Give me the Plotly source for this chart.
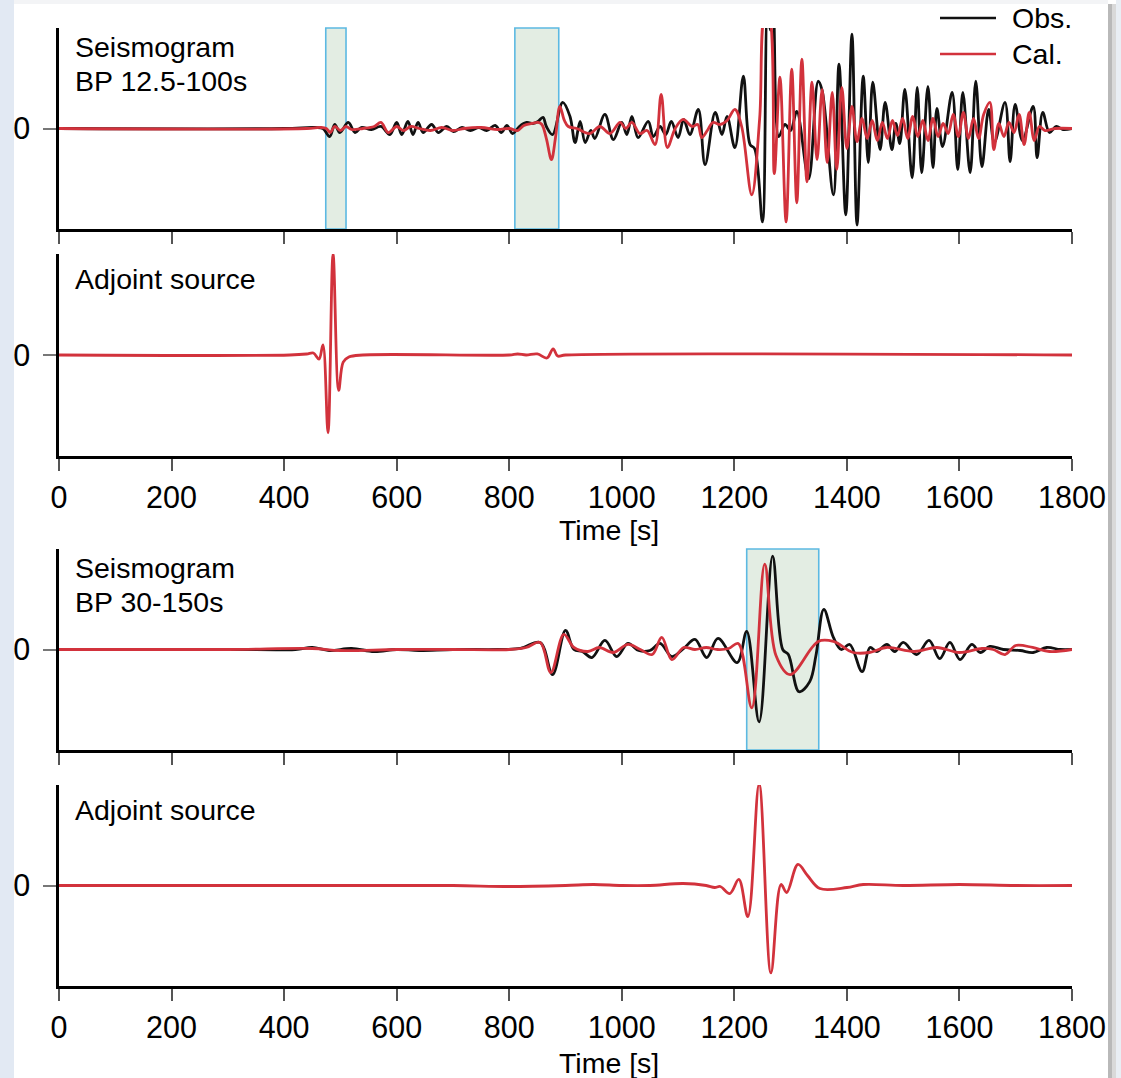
import plotly.graph_objects as go

W, H = 1121, 1078
FONT = "Liberation Sans, Arial, Helvetica, sans-serif"

# ---------------- data ----------------
tick_vals = [0, 200, 400, 600, 800, 1000, 1200, 1400, 1600, 1800]

# Panel 1: Seismogram BP 12.5-100s
p1_obs_t = [0, 400, 455, 469, 481, 490, 499, 514, 526, 537, 555, 572, 588, 600, 609, 620, 629, 638, 647,
            662, 674, 689, 701, 716, 731, 746, 760, 775, 786, 796, 806, 818, 831, 843, 851, 860, 866, 877,
            895, 908, 917, 926, 935, 945, 952, 970, 985, 1000, 1009, 1018, 1029, 1047, 1056, 1068, 1078,
            1088, 1100, 1110, 1121, 1136, 1148, 1166, 1178, 1187, 1201, 1216, 1228, 1236, 1250, 1259, 1264,
            1269, 1279, 1290, 1300, 1311, 1332, 1349, 1356, 1376, 1386, 1398, 1409, 1418, 1429, 1438, 1446,
            1459, 1468, 1480, 1487, 1494, 1503, 1516, 1525, 1533, 1544, 1553, 1560, 1570, 1587, 1597, 1606,
            1619, 1629, 1640, 1652, 1662, 1681, 1690, 1699, 1712, 1731, 1738, 1748, 1760, 1772, 1784, 1800]
p1_obs_v = [0, 0, 0.01, 0.0, -0.08, 0.04, -0.04, 0.06, -0.04, 0.01, -0.01, 0.02, -0.06, 0.06, -0.06, 0.07, -0.06, 0.06, -0.04,
            0.04, -0.04, 0.02, -0.03, 0.01, -0.02, 0.01, -0.02, 0.03, -0.04, 0.03, -0.05, 0.02, 0.06, 0.05, 0.07, 0.11, 0.02, -0.06,
            0.26, 0.12, -0.14, 0.07, -0.14, -0.02, -0.10, 0.14, -0.11, 0.06, -0.06, 0.12, -0.09, 0.07, -0.08, 0.02, -0.06,
            0.07, -0.09, 0.09, -0.06, 0.19, -0.36, 0.16, -0.06, 0.12, -0.19, 0.52, -0.16, -0.20, -0.93, 1.15, 0.98,
            1.15, -0.08, 0.04, -0.02, 0.17, -0.50, 0.47, 0.38, -0.66, 0.64, -0.86, 0.94, -0.96, 0.52, -0.34, 0.46,
            -0.21, 0.26, -0.21, 0.05, -0.15, 0.39, -0.49, 0.41, -0.44, 0.42, -0.39, 0.20, -0.18, 0.36, -0.41, 0.36,
            -0.44, 0.47, -0.38, 0.19, -0.14, 0.26, -0.33, 0.24, -0.12, 0.22, -0.29, 0.16, -0.04, 0.02, -0.01, 0]

p1_cal_t = [0, 440, 465, 475, 482, 490, 500, 510, 520, 540, 560, 572, 585, 600, 612, 625, 640, 660, 680, 700,
            720, 750, 780, 800, 815, 826, 840, 851, 858, 866, 875, 882, 890, 898, 905, 920, 943, 961, 979, 997,
            1007, 1018, 1032, 1045, 1059, 1070, 1081, 1095, 1109, 1125, 1135, 1142, 1152, 1162, 1175, 1187,
            1201, 1213, 1231, 1245, 1255, 1261, 1271, 1281, 1292, 1302, 1311, 1320, 1329, 1338, 1347, 1356,
            1365, 1374, 1382, 1391, 1400, 1409, 1418, 1427, 1436, 1445, 1454, 1463, 1472, 1481, 1490, 1499,
            1508, 1517, 1526, 1535, 1544, 1553, 1562, 1571, 1580, 1589, 1598, 1607, 1616, 1625, 1634, 1643,
            1654, 1661, 1670, 1679, 1688, 1697, 1706, 1715, 1724, 1733, 1742, 1752, 1770, 1800]
p1_cal_v = [0, 0, 0.01, 0.0, -0.04, 0.02, -0.02, 0.02, -0.01, 0.0, 0.02, 0.06, -0.04, 0.02, -0.02, 0.02, 0.0, -0.02, 0.01, -0.02,
            0.0, 0.01, -0.01, 0.0, -0.02, 0.03, 0.05, 0.06, 0.04, -0.10, -0.31, -0.10, 0.22, 0.08, 0.02, 0.0, -0.05, 0.02, -0.05, 0.06,
            0.0, 0.06, -0.05, -0.02, -0.16, 0.34, -0.19, 0.0, 0.09, 0.02, 0.04, -0.09, -0.02, 0.06, 0.04, 0.08,
            0.19, 0.02, -0.66, 0.10, 1.15, 1.15, -0.45, 0.51, -0.93, 0.59, -0.74, 0.69, -0.53, 0.46, -0.31, 0.39,
            -0.34, 0.36, -0.41, 0.41, -0.20, 0.22, -0.13, 0.10, -0.10, 0.08, -0.12, 0.06, -0.10, 0.08, -0.07, 0.10,
            -0.10, 0.12, -0.08, 0.08, -0.12, 0.10, -0.08, 0.05, -0.05, 0.14, -0.08, 0.16, -0.10, 0.10, -0.10, 0.14,
            0.26, -0.21, 0.05, -0.08, 0.06, -0.04, 0.14, -0.16, 0.16, -0.12, 0.02, -0.02, 0.0, 0]

# Panel 2: adjoint source (BP 12.5-100s)
p2_adj_t = [0, 410, 440, 452, 462, 469, 478, 487, 497, 505, 515, 540, 800, 815, 830, 850, 867, 878, 886, 900, 1800]
p2_adj_v = [0, 0, 0.01, 0.02, -0.04, 0.10, -0.77, 1.00, -0.35, -0.07, -0.02, 0.0, 0.0, 0.01, 0.0, 0.01, -0.03, 0.06, -0.01, 0, 0]

# Panel 3: Seismogram BP 30-150s
p3_obs_t = [0, 300, 420, 450, 480, 520, 560, 600, 640, 700, 780, 820, 855, 877, 900, 915, 930, 947, 970, 991,
            1011, 1030, 1050, 1068, 1089, 1110, 1130, 1151, 1171, 1205, 1222, 1244, 1268, 1286, 1296, 1315,
            1334, 1345, 1359, 1376, 1390, 1405, 1427, 1441, 1453, 1471, 1485, 1500, 1524, 1546, 1565, 1583,
            1601, 1622, 1637, 1654, 1678, 1708, 1731, 1755, 1779, 1800]
p3_obs_v = [0, 0, 0.0, 0.02, -0.01, 0.01, -0.02, 0.0, -0.01, 0.0, 0.0, 0.01, 0.07, -0.25, 0.19, 0.0, -0.02, -0.08, 0.09, -0.07,
            0.06, -0.01, -0.01, 0.06, -0.07, 0.01, 0.10, -0.08, 0.11, -0.13, 0.18, -0.72, 0.93, 0.0, -0.05, -0.42,
            -0.32, -0.06, 0.40, 0.12, 0.0, 0.05, -0.22, 0.02, -0.02, 0.05, -0.02, 0.07, -0.05, 0.09, -0.09, 0.07,
            -0.10, 0.05, -0.03, 0.03, 0.0, -0.01, -0.03, 0.02, 0.0, 0]

p3_cal_t = [0, 300, 450, 500, 600, 700, 800, 830, 855, 874, 897, 915, 940, 960, 985, 1011, 1033, 1054, 1071, 1089,
            1110, 1130, 1150, 1170, 1190, 1207, 1231, 1254, 1274, 1299, 1349, 1376, 1411, 1440, 1470, 1520,
            1560, 1600, 1640, 1660, 1681, 1700, 1730, 1760, 1800]
p3_cal_v = [0, 0, 0.01, -0.01, 0.0, 0.0, 0.0, 0.02, 0.07, -0.23, 0.15, 0.02, -0.02, 0.02, -0.03, 0.05, 0.0, -0.05, 0.12, -0.10,
            0.02, 0.0, 0.02, 0.0, 0.01, 0.06, -0.58, 0.85, -0.06, -0.25, 0.08, 0.08, -0.03, -0.03, 0.02, -0.02,
            0.02, -0.03, 0.01, 0.0, -0.05, 0.04, 0.02, -0.02, 0]

# Panel 4: adjoint source (BP 30-150s)
p4_adj_t = [0, 500, 700, 800, 900, 950, 1000, 1050, 1109, 1150, 1165, 1175, 1192, 1208, 1224, 1244, 1265, 1283,
            1293, 1313, 1330, 1352, 1400, 1429, 1500, 1600, 1700, 1800]
p4_adj_v = [0, 0, 0.0, -0.01, 0.0, 0.01, 0.0, 0.0, 0.02, 0.0, -0.02, -0.01, -0.08, 0.06, -0.31, 1.01, -0.87, 0.01,
            -0.07, 0.21, 0.10, -0.03, -0.02, 0.01, 0.0, 0.01, 0.0, 0]

# measurement windows (s)
windows_p1 = [(474, 510), (810, 888)]
windows_p3 = [(1222, 1350)]

OBS_COLOR = "#111111"
CAL_COLOR = "#d2323c"

# ---------------- layout helpers ----------------
def px(x):
    return x / W

def py(y):
    return 1 - y / H

x_dom = [px(59), px(1072)]
panels = [(28, 229), (254, 456), (549, 750), (785, 986)]  # pixel top, bottom

fig = go.Figure()

def add(t, v, color, idx, name):
    fig.add_trace(go.Scatter(
        x=t, y=v, mode="lines", name=name, showlegend=False,
        line=dict(color=color, width=2.8, shape="spline", smoothing=1.0),
        xaxis="x" if idx == 1 else f"x{idx}", yaxis="y" if idx == 1 else f"y{idx}",
    ))

add(p1_obs_t, p1_obs_v, OBS_COLOR, 1, "Obs.")
add(p1_cal_t, p1_cal_v, CAL_COLOR, 1, "Cal.")
add(p2_adj_t, p2_adj_v, CAL_COLOR, 2, "Adjoint")
add(p3_obs_t, p3_obs_v, OBS_COLOR, 3, "Obs.")
add(p3_cal_t, p3_cal_v, CAL_COLOR, 3, "Cal.")
add(p4_adj_t, p4_adj_v, CAL_COLOR, 4, "Adjoint")

layout = dict(
    width=W, height=H, autosize=False,
    margin=dict(l=0, r=0, t=0, b=0, pad=0, autoexpand=False),
    paper_bgcolor="white", plot_bgcolor="rgba(0,0,0,0)",
    font=dict(family=FONT, size=28, color="black"),
    showlegend=False,
)

TICK_SIZE = 30.5
TEXT_SIZE = 28.5

for i, (top, bot) in enumerate(panels, start=1):
    labels = i in (2, 4)
    xa = dict(domain=x_dom, range=[0, 1800], tickvals=tick_vals, automargin=False,
              showticklabels=labels, ticks="outside", ticklen=12, tickwidth=1.5, tickcolor="#555",
              showline=True, linecolor="black", linewidth=2.6, showgrid=False, zeroline=False,
              anchor="y" if i == 1 else f"y{i}", tickfont=dict(size=TICK_SIZE, family=FONT, color="black"),
              ticklabelstandoff=1)
    ya = dict(domain=[py(bot), py(top)], range=[-1, 1], tickvals=[0], ticktext=["0"], automargin=False,
              ticks="outside", ticklen=13, tickwidth=1.5, tickcolor="#777",
              showline=True, linecolor="black", linewidth=2.6, showgrid=False, zeroline=False,
              anchor="x" if i == 1 else f"x{i}", tickfont=dict(size=TICK_SIZE, family=FONT, color="black"),
              ticklabelstandoff=7)
    layout["xaxis" if i == 1 else f"xaxis{i}"] = xa
    layout["yaxis" if i == 1 else f"yaxis{i}"] = ya

fig.update_layout(**layout)

shapes = []
# page frame
shapes.append(dict(type="rect", xref="paper", yref="paper", x0=0, x1=px(14), y0=0, y1=1,
                   fillcolor="#e2e9f3", line=dict(width=0), layer="below"))
shapes.append(dict(type="rect", xref="paper", yref="paper", x0=px(14), x1=px(1108), y0=py(4), y1=1,
                   fillcolor="#f3f4f6", line=dict(width=0), layer="below"))
shapes.append(dict(type="rect", xref="paper", yref="paper", x0=px(1108), x1=px(1112), y0=0, y1=py(4),
                   fillcolor="#b9b9b9", line=dict(width=0), layer="below"))
shapes.append(dict(type="rect", xref="paper", yref="paper", x0=px(1112), x1=px(1116), y0=0, y1=py(4),
                   fillcolor="#d9d9d9", line=dict(width=0), layer="below"))
shapes.append(dict(type="rect", xref="paper", yref="paper", x0=px(1116), x1=1, y0=0, y1=1,
                   fillcolor="#e9eef4", line=dict(width=0), layer="below"))

for (a, b) in windows_p1:
    shapes.append(dict(type="rect", xref="x", yref="y domain", x0=a, x1=b, y0=0, y1=1,
                       fillcolor="#e3ede3", line=dict(color="#5cb9e2", width=1.6), layer="below"))
for (a, b) in windows_p3:
    shapes.append(dict(type="rect", xref="x3", yref="y3 domain", x0=a, x1=b, y0=0, y1=1,
                       fillcolor="#e3ede3", line=dict(color="#5cb9e2", width=1.6), layer="below"))

# legend lines
shapes.append(dict(type="line", xref="paper", yref="paper", x0=px(940), x1=px(996), y0=py(18), y1=py(18),
                   line=dict(color=OBS_COLOR, width=2.4)))
shapes.append(dict(type="line", xref="paper", yref="paper", x0=px(940), x1=px(996), y0=py(54), y1=py(54),
                   line=dict(color=CAL_COLOR, width=2.4)))

annotations = []
def text(s, x, y, xanchor="left", size=TEXT_SIZE):
    annotations.append(dict(text=s, x=px(x), y=py(y), xref="paper", yref="paper", showarrow=False,
                            xanchor=xanchor, yanchor="middle", font=dict(size=size, family=FONT, color="black")))

text("Seismogram", 73, 47)
text("BP 12.5-100s", 73, 81)
text("Adjoint source", 73, 279)
text("Seismogram", 73, 568)
text("BP 30-150s", 73, 602)
text("Adjoint source", 73, 810)
text("Time [s]", 609, 530, "center")
text("Time [s]", 609, 1063, "center")
text("Obs.", 1010, 18)
text("Cal.", 1010, 54)

fig.update_layout(shapes=shapes, annotations=annotations)
fig.write_html("out.html")
